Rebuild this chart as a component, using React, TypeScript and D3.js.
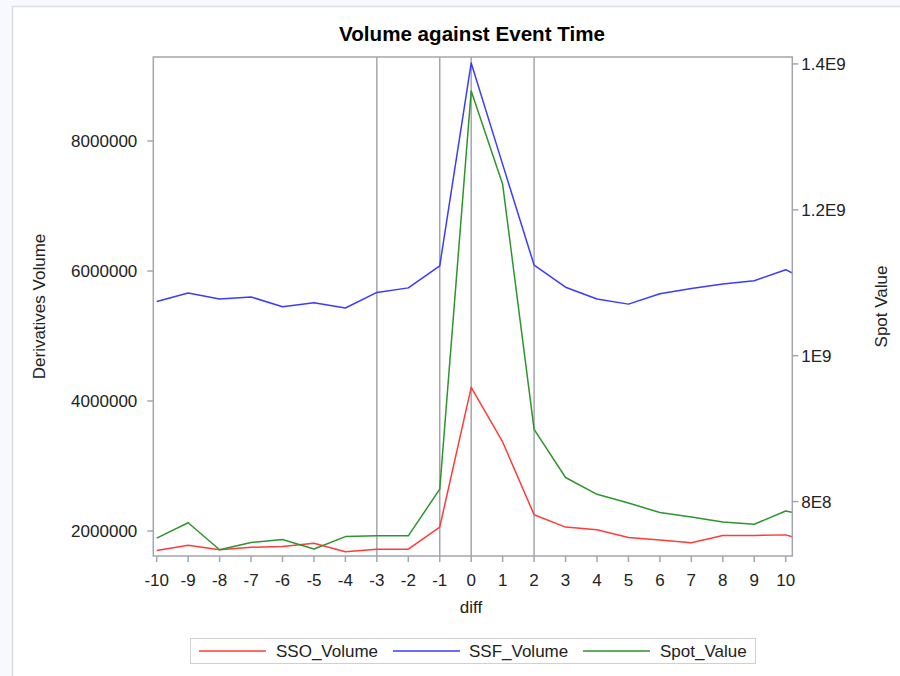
import React from "react";
import * as d3 from "d3";

const diffs = [-10, -9, -8, -7, -6, -5, -4, -3, -2, -1, 0, 1, 2, 3, 4, 5, 6, 7, 8, 9, 10, 11];
const ssoVolume = [1.70e6, 1.78e6, 1.71e6, 1.75e6, 1.76e6, 1.81e6, 1.68e6, 1.72e6, 1.72e6, 2.06e6, 4.21e6, 3.37e6, 2.25e6, 2.06e6, 2.02e6, 1.90e6, 1.86e6, 1.82e6, 1.93e6, 1.93e6, 1.94e6, 1.80e6];
const ssfVolume = [5.53e6, 5.66e6, 5.57e6, 5.60e6, 5.45e6, 5.51e6, 5.43e6, 5.67e6, 5.74e6, 6.08e6, 9.20e6, 7.64e6, 6.09e6, 5.75e6, 5.57e6, 5.49e6, 5.65e6, 5.73e6, 5.80e6, 5.85e6, 6.02e6, 5.77e6];
const spotValue = [7.50e8, 7.71e8, 7.34e8, 7.44e8, 7.48e8, 7.35e8, 7.52e8, 7.53e8, 7.53e8, 8.17e8, 1.363e9, 1.235e9, 8.99e8, 8.33e8, 8.10e8, 7.98e8, 7.85e8, 7.79e8, 7.72e8, 7.69e8, 7.87e8, 7.79e8];

const xTicks = [-10, -9, -8, -7, -6, -5, -4, -3, -2, -1, 0, 1, 2, 3, 4, 5, 6, 7, 8, 9, 10];
const refLines = [-3, -1, 0, 2];
const leftTicks = [2000000, 4000000, 6000000, 8000000];
const leftTickLabels = ["2000000", "4000000", "6000000", "8000000"];
const rightTicks = [8e8, 1e9, 1.2e9, 1.4e9];
const rightTickLabels = ["8E8", "1E9", "1.2E9", "1.4E9"];

const seriesNames = ["SSO_Volume", "SSF_Volume", "Spot_Value"];
const seriesColors = ["#ff3b3b", "#3b3bff", "#2e952e"];

const W = 900;
const H = 676;
const frame = { left: 153.3, right: 792.3, top: 57, bottom: 556 };
const FONT = "'Liberation Sans', Arial, sans-serif";

export default function App() {
  const x = d3.scaleLinear().domain([-10, 10]).range([156.7, 785.7]);
  const yL = d3.scaleLinear().domain([1.615e6, 9.292e6]).range([frame.bottom, frame.top]);
  const yR = d3.scaleLinear().domain([7.254e8, 1.4095e9]).range([frame.bottom, frame.top]);

  const lineL = d3.line<number>().x((_, i) => x(diffs[i])).y((d) => yL(d));
  const lineR = d3.line<number>().x((_, i) => x(diffs[i])).y((d) => yR(d));

  const paths = [
    { d: lineL(ssoVolume), color: seriesColors[0] },
    { d: lineL(ssfVolume), color: seriesColors[1] },
    { d: lineR(spotValue), color: seriesColors[2] },
  ];

  const axisColor = "#a3a6ab";
  const textColor = "#222";
  const midY = (frame.top + frame.bottom) / 2;

  const legendItems = [
    { lx: 199, tx: 276 },
    { lx: 393, tx: 469 },
    { lx: 583, tx: 660 },
  ];

  return (
    <div style={{ position: "absolute", left: 0, top: 0 }}>
      <svg width={W} height={H} style={{ display: "block" }}>
        <defs>
          <clipPath id="plotClip">
            <rect x={frame.left} y={frame.top} width={frame.right - frame.left} height={frame.bottom - frame.top} />
          </clipPath>
        </defs>
        <rect x={0} y={0} width={W} height={H} fill="#f8f9fe" />
        <rect x={12.5} y={6.5} width={W} height={H} fill="#ffffff" stroke="#dcdde0" strokeWidth={1.5} />

        <text x={472} y={41} textAnchor="middle" fontFamily={FONT} fontWeight="bold" fontSize={20.6} fill="#000">
          Volume against Event Time
        </text>

        {refLines.map((r) => (
          <line key={r} x1={x(r)} x2={x(r)} y1={frame.top} y2={frame.bottom} stroke={axisColor} strokeWidth={1.5} />
        ))}

        <g clipPath="url(#plotClip)">
          {paths.map((p, i) => (
            <path key={i} d={p.d || ""} fill="none" stroke={p.color} strokeWidth={1.5} strokeLinejoin="round" />
          ))}
        </g>

        <rect x={frame.left} y={frame.top} width={frame.right - frame.left} height={frame.bottom - frame.top} fill="none" stroke={axisColor} strokeWidth={1.5} />

        {xTicks.map((t) => (
          <g key={t}>
            <line x1={x(t)} x2={x(t)} y1={frame.bottom} y2={frame.bottom + 6} stroke={axisColor} strokeWidth={1.5} />
            <text x={x(t)} y={frame.bottom + 30} textAnchor="middle" fontFamily={FONT} fontSize={17} fill={textColor}>
              {t}
            </text>
          </g>
        ))}
        <text x={471} y={613} textAnchor="middle" fontFamily={FONT} fontSize={17} fill={textColor}>
          diff
        </text>

        {leftTicks.map((t, i) => (
          <g key={t}>
            <line x1={frame.left - 6} x2={frame.left} y1={yL(t)} y2={yL(t)} stroke={axisColor} strokeWidth={1.5} />
            <text x={frame.left - 16} y={yL(t) + 6} textAnchor="end" fontFamily={FONT} fontSize={17} fill={textColor}>
              {leftTickLabels[i]}
            </text>
          </g>
        ))}
        <text transform={`translate(45,${midY}) rotate(-90)`} textAnchor="middle" fontFamily={FONT} fontSize={17} fill={textColor}>
          Derivatives Volume
        </text>

        {rightTicks.map((t, i) => (
          <g key={t}>
            <line x1={frame.right} x2={frame.right + 6} y1={yR(t)} y2={yR(t)} stroke={axisColor} strokeWidth={1.5} />
            <text x={frame.right + 9} y={yR(t) + 6} textAnchor="start" fontFamily={FONT} fontSize={17} fill={textColor}>
              {rightTickLabels[i]}
            </text>
          </g>
        ))}
        <text transform={`translate(887,${midY}) rotate(-90)`} textAnchor="middle" fontFamily={FONT} fontSize={17} fill={textColor}>
          Spot Value
        </text>

        <rect x={190.5} y={638.5} width={565} height={25} fill="#fff" stroke="#d0d0d0" strokeWidth={1} />
        {seriesNames.map((n, i) => (
          <g key={n}>
            <line x1={legendItems[i].lx} x2={legendItems[i].lx + 67} y1={651} y2={651} stroke={seriesColors[i]} strokeWidth={1.6} />
            <text x={legendItems[i].tx} y={657} fontFamily={FONT} fontSize={17} fill={textColor}>
              {n}
            </text>
          </g>
        ))}
      </svg>
    </div>
  );
}
